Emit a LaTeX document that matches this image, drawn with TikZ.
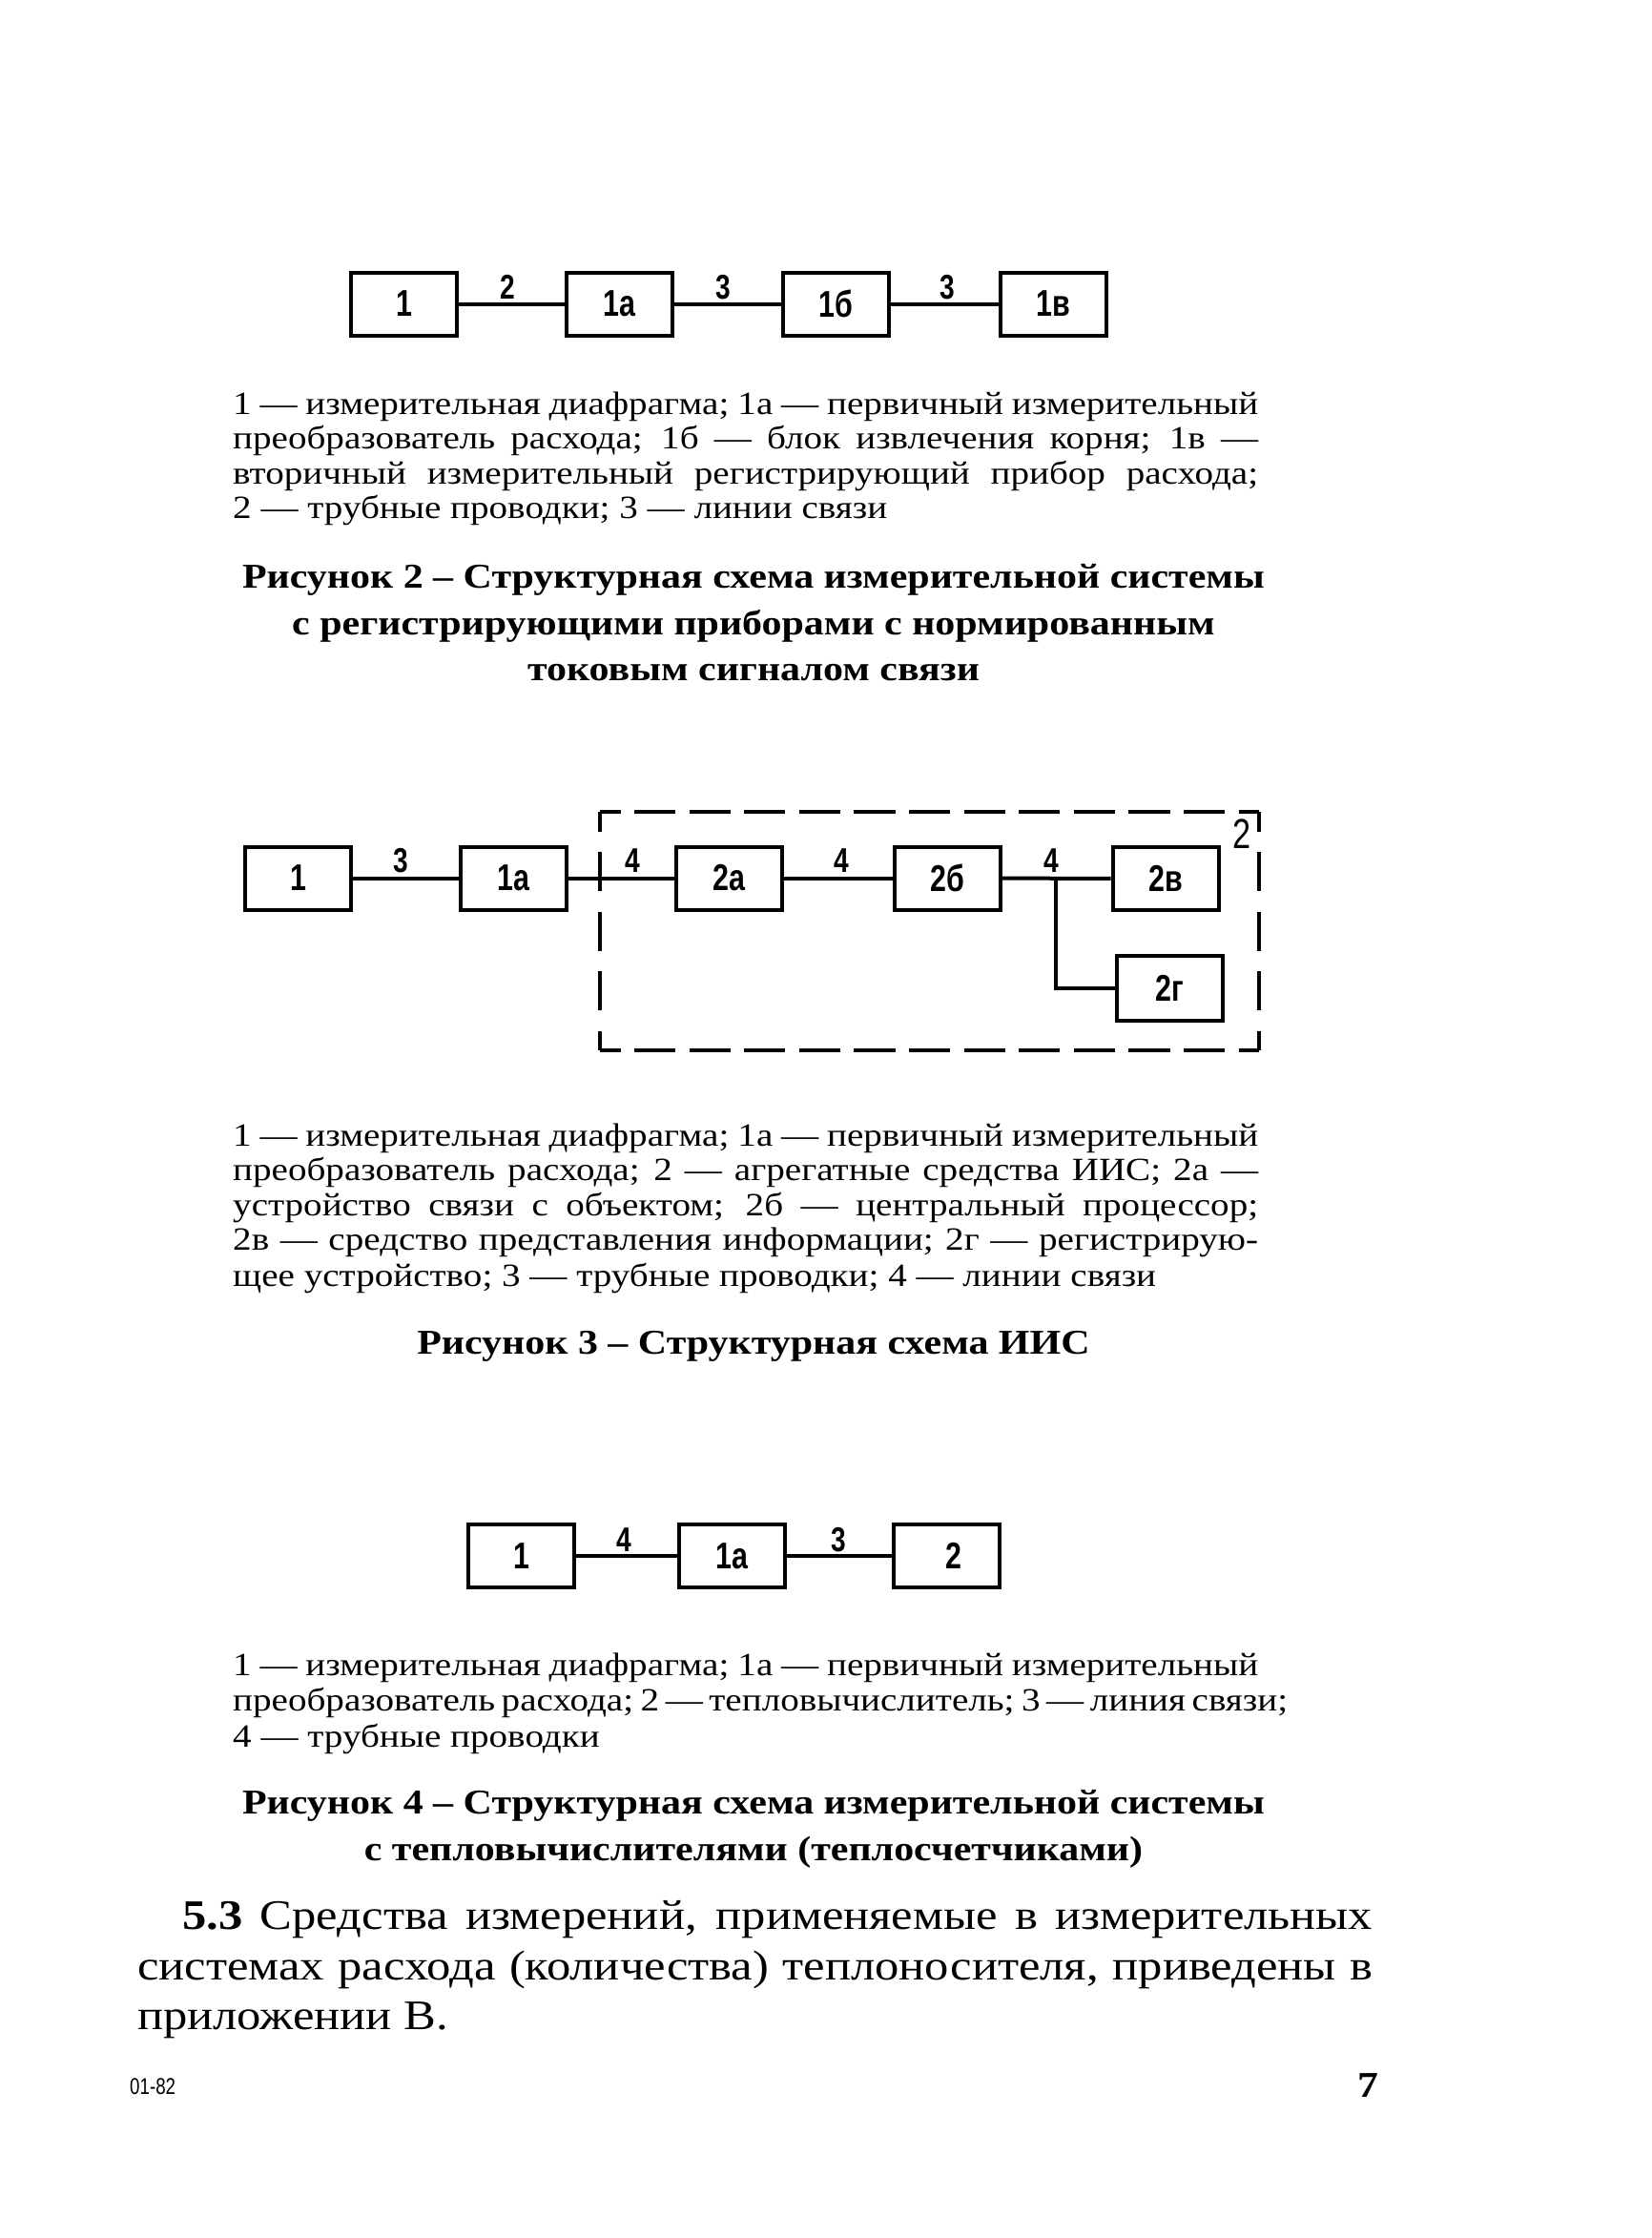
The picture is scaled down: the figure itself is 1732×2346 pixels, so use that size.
\documentclass[tikz,border=0pt]{standalone}
\usepackage{fontspec}
\setmainfont[FakeStretch=1.15]{Liberation Serif}
\newfontfamily\boxfont[FakeStretch=0.78]{Liberation Sans}
\newcommand{\legsize}{\fontsize{34}{36}\selectfont}
\newcommand{\capsize}{\fontsize{36.5}{40}\selectfont\bfseries}
\newcommand{\parsize}{\fontsize{44}{50}\selectfont}
\newcommand{\jl}[2]{\makebox[#1pt][s]{#2}}
\tikzset{
 blk/.style={draw, line width=4pt, minimum width=111pt, minimum height=66pt, inner sep=0pt, font=\boxfont\bfseries\fontsize{39}{39}\selectfont},
 wire/.style={line width=4pt},
 lbl/.style={font=\boxfont\bfseries\fontsize{36}{36}\selectfont, inner sep=0pt, anchor=base},
 leg/.style={font=\legsize, inner sep=0pt, anchor=base west},
 capt/.style={font=\capsize, inner sep=0pt, anchor=base},
 para/.style={font=\parsize, inner sep=0pt, anchor=base west},
 dsh/.style={line width=4pt},
}
\begin{document}
\begin{tikzpicture}[x=1pt,y=-1pt]
\useasboundingbox (0,0) rectangle (1732,2346);
\fill[white] (0,0) rectangle (1732,2346);

% ---------- Figure 2 ----------
\node[blk] (f2a) at (423.5,318.5) {1};
\node[blk] (f2b) at (649,318.5) {1а};
\node[blk] (f2c) at (876.5,318.5) {1б};
\node[blk] (f2d) at (1104,318.5) {1в};
\draw[wire] (f2a) -- (f2b);
\draw[wire] (f2b) -- (f2c);
\draw[wire] (f2c) -- (f2d);
\node[lbl] (f2l1) at (532,313) {2};
\node[lbl] (f2l2) at (758,313) {3};
\node[lbl] (f2l3) at (993,313) {3};

\node[leg] (f2t1) at (244,434) {\jl{1075}{1 — измерительная диафрагма; 1а — первичный измерительный}};
\node[leg] (f2t2) at (244,470) {\jl{1075}{преобразователь расхода; 1б — блок извлечения корня; 1в —}};
\node[leg] (f2t3) at (244,507) {\jl{1075}{вторичный измерительный регистрирующий прибор расхода;}};
\node[leg] (f2t4) at (244,543) {2 — трубные проводки; 3 — линии связи};

\node[capt] (f2c1) at (790,616) {Рисунок 2 – Структурная схема измерительной системы};
\node[capt] (f2c2) at (790,665) {с регистрирующими приборами с нормированным};
\node[capt] (f2c3) at (790,713) {токовым сигналом связи};

% ---------- Figure 3 ----------
\node[blk] (f3a) at (312.5,920.5) {1};
\node[blk] (f3b) at (538.5,920.5) {1а};
\node[blk] (f3c) at (764,920.5) {2а};
\node[blk] (f3d) at (993.5,920.5) {2б};
\node[blk] (f3e) at (1222,921) {2в};
\node[blk, minimum height=68pt] (f3f) at (1226,1036) {2г};
\coordinate (f3j) at (1107,920.5);
\draw[wire] (f3a) -- (f3b);
\draw[wire] (f3b) -- (f3c);
\draw[wire] (f3c) -- (f3d);
\draw[wire] (f3d) -- (f3e);
\draw[wire, line width=3.5pt] (f3j) |- (f3f.west);
\node[lbl] (f3l1) at (420,914) {3};
\node[lbl] (f3l2) at (663,914) {4};
\node[lbl] (f3l3) at (882,914) {4};
\node[lbl] (f3l4) at (1102,914) {4};
% dashed frame of 2
\coordinate (fTL) at (629,851);
\coordinate (fTR) at (1320,851);
\coordinate (fBR) at (1320,1101);
\coordinate (fBL) at (629,1101);
\draw[dsh, dash pattern=on 43.2pt off 14.4pt, dash phase=21.6pt] (fTL) -- (fTR);
\draw[dsh, dash pattern=on 43.2pt off 14.4pt, dash phase=21.6pt] (fBL) -- (fBR);
\draw[dsh, dash pattern=on 41pt off 21.5pt, dash phase=20.5pt] (fTL) -- (fBL);
\draw[dsh, dash pattern=on 41pt off 21.5pt, dash phase=20.5pt] (fTR) -- (fBR);
\node[lbl, font=\boxfont\fontsize{44}{44}\selectfont] (f3l5) at (1302,889) {2};

\node[leg] (f3t1) at (244,1201) {\jl{1075}{1 — измерительная диафрагма; 1а — первичный измерительный}};
\node[leg] (f3t2) at (244,1237) {\jl{1075}{преобразователь расхода; 2 — агрегатные средства ИИС; 2а —}};
\node[leg] (f3t3) at (244,1274) {\jl{1075}{устройство связи с объектом; 2б — центральный процессор;}};
\node[leg] (f3t4) at (244,1310) {\jl{1075}{2в — средство представления информации; 2г — регистрирую-}};
\node[leg] (f3t5) at (244,1348) {щее устройство; 3 — трубные проводки; 4 — линии связи};

\node[capt] (f3c1) at (790,1419) {Рисунок 3 – Структурная схема ИИС};

% ---------- Figure 4 ----------
\node[blk] (f4a) at (546.5,1631) {1};
\node[blk] (f4b) at (767.5,1631) {1а};
\node[blk] (f4c) at (992.5,1631) {\hspace*{14pt}2};
\draw[wire] (f4a) -- (f4b);
\draw[wire] (f4b) -- (f4c);
\node[lbl] (f4l1) at (654,1626) {4};
\node[lbl] (f4l2) at (879,1626) {3};

\node[leg] (f4t1) at (244,1756) {\jl{1075}{1 — измерительная диафрагма; 1а — первичный измерительный}};
\node[leg] (f4t2) at (244,1793) {\jl{1075}{преобразователь расхода; 2 — тепловычислитель; 3 — линия связи;}};
\node[leg] (f4t3) at (244,1831) {4 — трубные проводки};

\node[capt] (f4c1) at (790,1901) {Рисунок 4 – Структурная схема измерительной системы};
\node[capt] (f4c2) at (790,1950) {с тепловычислителями (теплосчетчиками)};

% ---------- Paragraph ----------
\node[para] (p1) at (191,2022) {\jl{1248}{\textbf{5.3} Средства измерений, применяемые в измерительных}};
\node[para] (p2) at (144,2075) {\jl{1295}{системах расхода (количества) теплоносителя, приведены в}};
\node[para] (p3) at (144,2127) {приложении В.};

% ---------- Footer ----------
\node[font=\boxfont\fontsize{24}{24}\selectfont, inner sep=0pt, anchor=base west] (foot1) at (136,2195) {01-82};
\node[font=\fontsize{38}{38}\selectfont\bfseries, inner sep=0pt, anchor=base] (foot2) at (1434,2198) {7};
\end{tikzpicture}
\end{document}
